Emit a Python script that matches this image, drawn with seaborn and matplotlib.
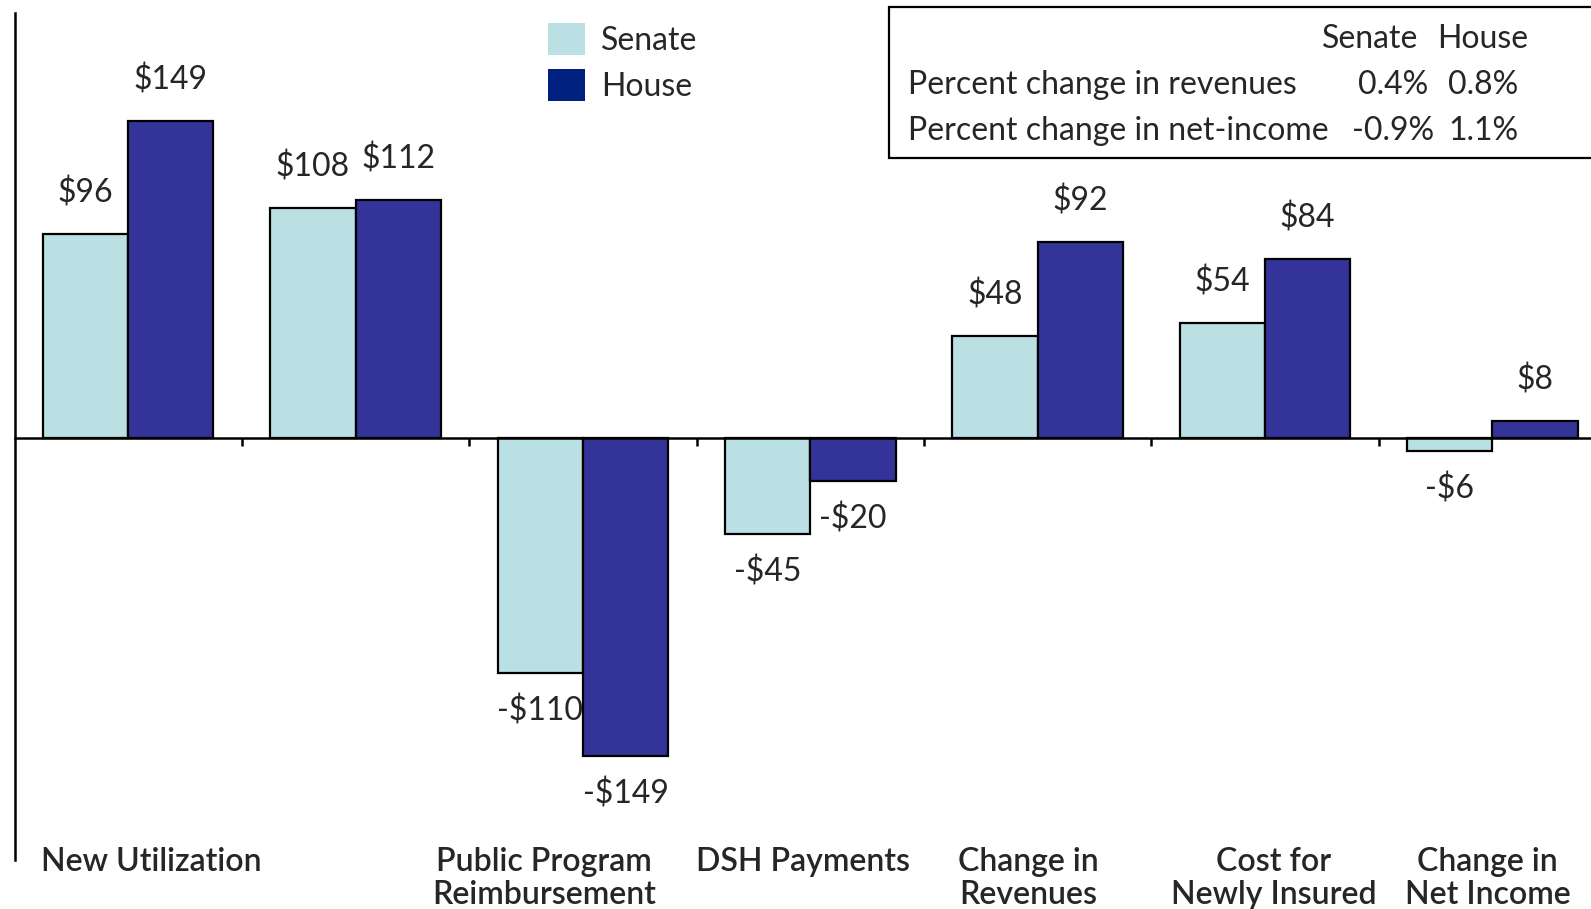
import numpy as np
import pandas as pd
import seaborn as sns
import matplotlib.pyplot as plt
from matplotlib.patches import Patch, Rectangle

# data
categories = ["New Utilization", "", "Public Program\nReimbursement", "DSH Payments",
              "Change in\nRevenues", "Cost for\nNewly Insured", "Change in\nNet Income"]
senate = [96, 108, -110, -45, 48, 54, -6]
house = [149, 112, -149, -20, 92, 84, 8]

table_cols = ["Senate", "House"]
table_rows = ["Percent change in revenues", "Percent change in net-income"]
table_senate = ["0.4%", "-0.9%"]
table_house = ["0.8%", "1.1%"]

df = pd.DataFrame({
    "cat": categories * 2,
    "chamber": ["Senate"] * 7 + ["House"] * 7,
    "value": senate + house,
})

sns.set_style("white")
plt.rcParams['font.family'] = ['Lato', 'DejaVu Sans']

fig = plt.figure(figsize=(15.91, 9.09), dpi=100)
W, H = 1591, 909
# axes placed in pixel terms: left spine at x=14, zero line at y=438, bottom at 860
ax = fig.add_axes([14.5 / W, (H - 860) / H, (1606 - 14.5) / W, (860 - 13) / H])

pal = {"Senate": "#BAE0E3", "House": "#333399"}
sns.barplot(data=df, x="cat", y="value", hue="chamber", order=categories,
            hue_order=["Senate", "House"], palette=pal, width=0.75, gap=0,
            edgecolor="black", linewidth=1.6, saturation=1, legend=False, ax=ax)

ax.set_ylim(-197.9, 199.6)
ax.set_xlim(-0.5, 6.5)

FS = 23

# value labels
for cont in ax.containers:
    for bar in cont:
        v = bar.get_height()
        xc = bar.get_x() + bar.get_width() / 2
        if v >= 0:
            ax.annotate(f"${v:.0f}", (xc, v), xytext=(0, 29.5), textcoords="offset points",
                        ha="center", va="center", fontsize=FS)
        else:
            ax.annotate(f"-${-v:.0f}", (xc, v), xytext=(0, -27.5), textcoords="offset points",
                        ha="center", va="center", fontsize=FS)

# axes styling
for s in ["top", "right"]:
    ax.spines[s].set_visible(False)
ax.spines["bottom"].set_position(("data", 0))
ax.spines["bottom"].set_linewidth(1.8)
ax.spines["left"].set_linewidth(1.8)
ax.spines["left"].set_color("black")
ax.spines["bottom"].set_color("black")
ax.set_yticks([])
ax.set_xticks(np.arange(0.5, 6.5, 1))
ax.set_xticklabels([])
ax.tick_params(axis="x", direction="out", length=6, width=1.8, color="black", bottom=True)
ax.set_xlabel("")
ax.set_ylabel("")

# category labels under the plot
label_dx = [0.1, 0, -0.17, -0.03, -0.04, 0.04, -0.02]
for i, lab in enumerate(categories):
    ax.text(i + label_dx[i], -192, lab, ha="center", va="top", fontsize=FS,
            fontweight="semibold", linespacing=1.12, clip_on=False)

# legend
handles = [Patch(facecolor="#BAE0E3", edgecolor="none", label="Senate"),
           Patch(facecolor="#002080", edgecolor="none", label="House")]
fig.legend(handles=handles, loc="upper left", bbox_to_anchor=(548 / W, 1 - 23 / H),
           frameon=False, fontsize=FS, handlelength=1.15, handleheight=1.15,
           handletextpad=0.5, labelspacing=0.42, borderaxespad=0, borderpad=0)

# summary box
fig.patches.append(Rectangle((889 / W, 1 - 158 / H), 800 / W, 151 / H, transform=fig.transFigure,
                             facecolor="white", edgecolor="black", linewidth=1.6))
fig.text(1370 / W, 1 - 38.5 / H, table_cols[0], ha="center", va="center", fontsize=FS)
fig.text(1483 / W, 1 - 38.5 / H, table_cols[1], ha="center", va="center", fontsize=FS)
for r, (name, s, h) in enumerate(zip(table_rows, table_senate, table_house)):
    y = 1 - (85 + 45.5 * r) / H
    fig.text(908 / W, y, name, ha="left", va="center", fontsize=FS)
    fig.text(1393 / W, y, s, ha="center", va="center", fontsize=FS)
    fig.text(1483 / W, y, h, ha="center", va="center", fontsize=FS)

fig.savefig("out.png", dpi=100)
